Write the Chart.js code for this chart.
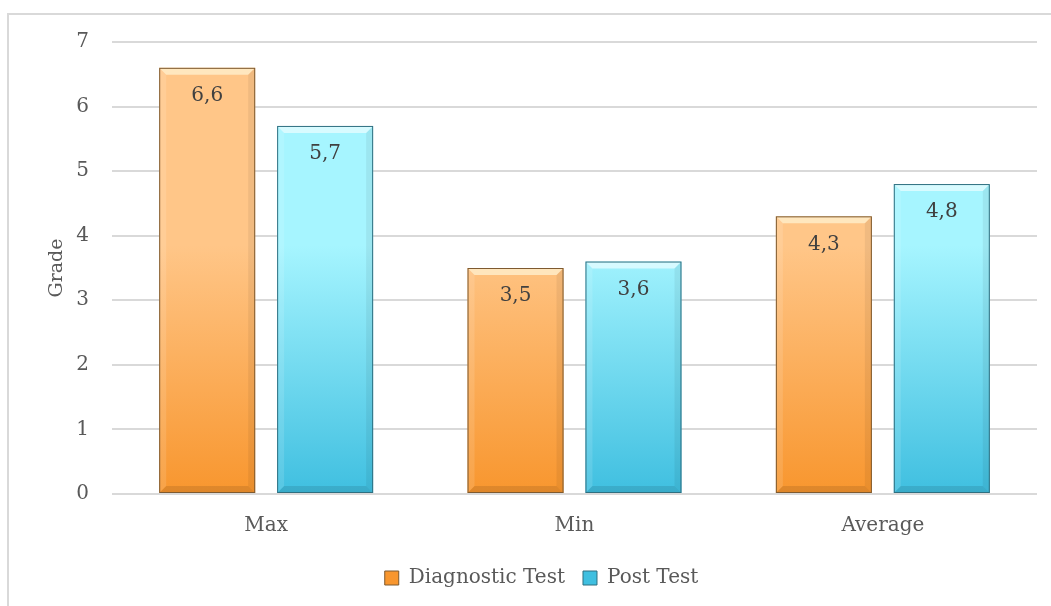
<!DOCTYPE html>
<html>
<head>
<meta charset="utf-8">
<script src="https://cdn.jsdelivr.net/npm/chart.js@4"></script>
<style>
  html, body { margin: 0; padding: 0; background: #fff; }
  #wrap { width: 1051px; height: 606px; position: relative; }
</style>
</head>
<body>
<div id="wrap"><canvas id="c" width="1051" height="606"></canvas></div>
<script>
const categories = ['Max', 'Min', 'Average'];
const diagnosticValues = [6.6, 3.5, 4.3];
const postValues = [5.7, 3.6, 4.8];
const seriesNames = ['Diagnostic Test', 'Post Test'];
const yTicks = [0, 1, 2, 3, 4, 5, 6, 7];

const FONT = "'DejaVu Serif', serif";
const FONT_SIZE = 20;
const TEXT_COLOR = '#595959';

const palettes = [
  { top: '#FFC688', bottom: '#F8962E', edge: '#7E5A30', light: 'rgba(255,236,200,0.85)' },
  { top: '#A6F5FF', bottom: '#3FBFE0', edge: '#2F6F80', light: 'rgba(225,252,255,0.85)' }
];

function barGradient(ctx, idx) {
  const chart = ctx.chart;
  const area = chart.chartArea;
  if (!area) return palettes[idx].bottom;
  const y = chart.scales.y;
  const g = chart.ctx.createLinearGradient(0, y.getPixelForValue(7), 0, y.getPixelForValue(0));
  g.addColorStop(0, palettes[idx].top);
  g.addColorStop(0.45, palettes[idx].top);
  g.addColorStop(1, palettes[idx].bottom);
  return g;
}

// Bevelled edges and value labels drawn on each bar element
const bevelPlugin = {
  id: 'bevel',
  afterDatasetsDraw(chart) {
    const c = chart.ctx;
    chart.data.datasets.forEach((ds, di) => {
      const meta = chart.getDatasetMeta(di);
      const p = palettes[di];
      meta.data.forEach((bar, i) => {
        const left = bar.x - bar.width / 2, right = bar.x + bar.width / 2;
        const top = bar.y, bottom = bar.base;
        const b = 7;
        c.save();
        // top highlight
        c.fillStyle = p.light;
        c.beginPath();
        c.moveTo(left, top); c.lineTo(right, top);
        c.lineTo(right - b, top + b); c.lineTo(left + b, top + b);
        c.closePath(); c.fill();
        // left highlight
        c.fillStyle = 'rgba(255,255,255,0.12)';
        c.beginPath();
        c.moveTo(left, top); c.lineTo(left + b, top + b);
        c.lineTo(left + b, bottom - b); c.lineTo(left, bottom);
        c.closePath(); c.fill();
        // right shade
        c.fillStyle = 'rgba(0,0,0,0.06)';
        c.beginPath();
        c.moveTo(right, top); c.lineTo(right - b, top + b);
        c.lineTo(right - b, bottom - b); c.lineTo(right, bottom);
        c.closePath(); c.fill();
        // bottom shade
        c.fillStyle = 'rgba(0,0,0,0.10)';
        c.beginPath();
        c.moveTo(left, bottom); c.lineTo(left + b, bottom - b);
        c.lineTo(right - b, bottom - b); c.lineTo(right, bottom);
        c.closePath(); c.fill();
        // outline
        c.strokeStyle = p.edge;
        c.lineWidth = 1;
        c.strokeRect(left + 0.5, top + 0.5, bar.width - 1, bottom - top - 1);
        // value label
        const v = ds.data[i];
        c.fillStyle = '#404040';
        c.font = FONT_SIZE + 'px ' + FONT;
        c.textAlign = 'center';
        c.textBaseline = 'middle';
        c.fillText(v.toFixed(1).replace('.', ','), bar.x, top + 28);
        c.restore();
      });
    });
  }
};

// Outer chart frame
const framePlugin = {
  id: 'frame',
  beforeDraw(chart) {
    const c = chart.ctx;
    c.save();
    c.strokeStyle = '#D9D9D9';
    c.lineWidth = 2;
    c.beginPath();
    c.moveTo(8, 620); c.lineTo(8, 14); c.lineTo(1060, 14);
    c.stroke();
    c.restore();
  }
};

new Chart(document.getElementById('c'), {
  type: 'bar',
  data: {
    labels: categories,
    datasets: [
      { label: seriesNames[0], data: diagnosticValues, backgroundColor: ctx => barGradient(ctx, 0), borderWidth: 0 },
      { label: seriesNames[1], data: postValues, backgroundColor: ctx => barGradient(ctx, 1), borderWidth: 0 }
    ]
  },
  options: {
    responsive: false,
    animation: false,
    devicePixelRatio: 1,
    layout: { padding: { left: 46, right: 14, top: 42, bottom: 8 } },
    datasets: { bar: { categoryPercentage: 0.765, barPercentage: 0.814 } },
    scales: {
      x: {
        grid: { display: false },
        border: { display: false },
        ticks: { color: TEXT_COLOR, font: { family: FONT, size: FONT_SIZE }, padding: 12 }
      },
      y: {
        min: 0, max: 7,
        afterBuildTicks: s => { s.ticks = yTicks.map(v => ({ value: v })); },
        afterFit: s => { s.width = 66; },
        grid: { color: '#D9D9D9', lineWidth: 2, drawTicks: false },
        border: { display: false },
        ticks: { color: TEXT_COLOR, font: { family: FONT, size: FONT_SIZE }, padding: 23 },
        title: { display: true, text: 'Grade', color: TEXT_COLOR, font: { family: FONT, size: FONT_SIZE - 1 }, padding: { top: 0, bottom: 0 } }
      }
    },
    plugins: {
      legend: {
        position: 'bottom',
        labels: {
          color: TEXT_COLOR,
          font: { family: FONT, size: FONT_SIZE },
          boxWidth: 14, boxHeight: 14, padding: 18,
          generateLabels: chart => chart.data.datasets.map((ds, i) => ({
            text: ds.label,
            fillStyle: palettes[i].bottom,
            strokeStyle: palettes[i].edge,
            fontColor: TEXT_COLOR,
            lineWidth: 1,
            datasetIndex: i
          }))
        }
      },
      tooltip: { enabled: false }
    }
  },
  plugins: [framePlugin, bevelPlugin]
});
</script>
</body>
</html>
